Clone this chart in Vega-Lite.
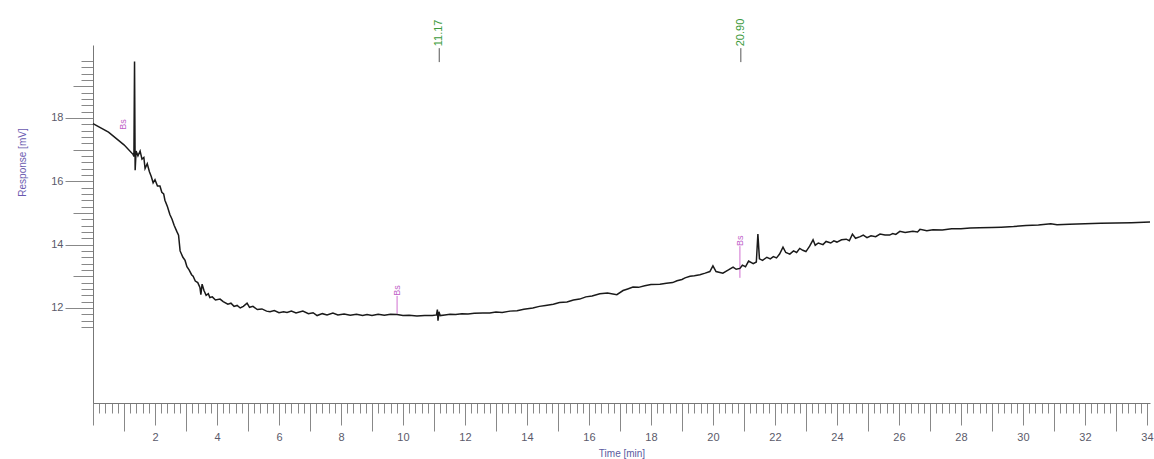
{
  "$schema": "https://vega.github.io/schema/vega-lite/v6.json",
  "width": 1057,
  "height": 358,
  "autosize": {"type": "none"},
  "padding": {"left": 93, "top": 45, "right": 4, "bottom": 56},
  "background": "white",
  "config": {
    "view": {"stroke": null},
    "axis": {
      "grid": false,
      "domainColor": "#777",
      "tickColor": "#888",
      "tickWidth": 1,
      "labelFont": "Liberation Sans",
      "labelFontSize": 11,
      "labelColor": "#5a5a6a",
      "titleFont": "Liberation Sans",
      "titleFontWeight": "normal"
    }
  },
  "datasets": {
    "trace": [
      {"t": 0, "v": 17.82}, {"t": 0.5, "v": 17.55}, {"t": 1.0, "v": 17.15}, {"t": 1.29, "v": 16.85},
      {"t": 1.32, "v": 16.78}, {"t": 1.34, "v": 19.78}, {"t": 1.36, "v": 16.35}, {"t": 1.39, "v": 16.95},
      {"t": 1.45, "v": 16.8}, {"t": 1.52, "v": 16.95}, {"t": 1.58, "v": 16.7}, {"t": 1.64, "v": 16.75},
      {"t": 1.68, "v": 16.4}, {"t": 1.75, "v": 16.55}, {"t": 1.82, "v": 16.3}, {"t": 1.88, "v": 16.15},
      {"t": 1.94, "v": 15.95}, {"t": 2.0, "v": 16.05}, {"t": 2.08, "v": 15.85}, {"t": 2.16, "v": 15.85},
      {"t": 2.22, "v": 15.65}, {"t": 2.28, "v": 15.6}, {"t": 2.32, "v": 15.4}, {"t": 2.4, "v": 15.2},
      {"t": 2.48, "v": 14.95}, {"t": 2.55, "v": 14.8}, {"t": 2.62, "v": 14.6}, {"t": 2.71, "v": 14.4},
      {"t": 2.76, "v": 14.3}, {"t": 2.81, "v": 13.8}, {"t": 2.9, "v": 13.6}, {"t": 2.97, "v": 13.5},
      {"t": 3.03, "v": 13.3}, {"t": 3.1, "v": 13.2}, {"t": 3.18, "v": 13.05}, {"t": 3.23, "v": 13.0},
      {"t": 3.3, "v": 12.85}, {"t": 3.38, "v": 12.8}, {"t": 3.45, "v": 12.65}, {"t": 3.48, "v": 12.42},
      {"t": 3.52, "v": 12.75}, {"t": 3.58, "v": 12.55}, {"t": 3.65, "v": 12.4}, {"t": 3.72, "v": 12.45},
      {"t": 3.77, "v": 12.33}, {"t": 3.85, "v": 12.35}, {"t": 3.95, "v": 12.25}, {"t": 4.1, "v": 12.28},
      {"t": 4.2, "v": 12.2}, {"t": 4.35, "v": 12.12}, {"t": 4.45, "v": 12.15}, {"t": 4.55, "v": 12.05},
      {"t": 4.65, "v": 12.08}, {"t": 4.75, "v": 12.0}, {"t": 4.85, "v": 12.05}, {"t": 4.97, "v": 12.15},
      {"t": 5.05, "v": 12.02}, {"t": 5.16, "v": 12.05}, {"t": 5.3, "v": 11.95}, {"t": 5.45, "v": 11.97},
      {"t": 5.6, "v": 11.9}, {"t": 5.71, "v": 11.88}, {"t": 5.85, "v": 11.92}, {"t": 6.0, "v": 11.85},
      {"t": 6.15, "v": 11.88}, {"t": 6.26, "v": 11.86}, {"t": 6.4, "v": 11.9}, {"t": 6.55, "v": 11.84},
      {"t": 6.77, "v": 11.9}, {"t": 6.95, "v": 11.82}, {"t": 7.1, "v": 11.85}, {"t": 7.23, "v": 11.76},
      {"t": 7.4, "v": 11.82}, {"t": 7.55, "v": 11.78}, {"t": 7.74, "v": 11.84}, {"t": 7.9, "v": 11.78},
      {"t": 8.1, "v": 11.81}, {"t": 8.3, "v": 11.77}, {"t": 8.5, "v": 11.8}, {"t": 8.7, "v": 11.76},
      {"t": 8.84, "v": 11.79}, {"t": 9.0, "v": 11.76}, {"t": 9.2, "v": 11.8}, {"t": 9.4, "v": 11.77},
      {"t": 9.6, "v": 11.8}, {"t": 9.81, "v": 11.79}, {"t": 10.0, "v": 11.76}, {"t": 10.2, "v": 11.77},
      {"t": 10.45, "v": 11.75}, {"t": 10.7, "v": 11.76}, {"t": 10.95, "v": 11.76}, {"t": 11.08, "v": 11.78},
      {"t": 11.11, "v": 11.95}, {"t": 11.13, "v": 11.6}, {"t": 11.16, "v": 11.88}, {"t": 11.2, "v": 11.76},
      {"t": 11.35, "v": 11.78}, {"t": 11.52, "v": 11.8}, {"t": 11.7, "v": 11.79}, {"t": 11.9, "v": 11.82},
      {"t": 12.1, "v": 11.81}, {"t": 12.3, "v": 11.83}, {"t": 12.58, "v": 11.84}, {"t": 12.8, "v": 11.84},
      {"t": 13.0, "v": 11.87}, {"t": 13.2, "v": 11.86}, {"t": 13.45, "v": 11.9}, {"t": 13.68, "v": 11.91},
      {"t": 13.9, "v": 11.96}, {"t": 14.19, "v": 12.0}, {"t": 14.4, "v": 12.05}, {"t": 14.6, "v": 12.08},
      {"t": 14.85, "v": 12.12}, {"t": 15.05, "v": 12.17}, {"t": 15.29, "v": 12.19}, {"t": 15.5, "v": 12.25},
      {"t": 15.7, "v": 12.28}, {"t": 15.9, "v": 12.35}, {"t": 16.1, "v": 12.38}, {"t": 16.35, "v": 12.45},
      {"t": 16.6, "v": 12.47}, {"t": 16.9, "v": 12.42}, {"t": 17.1, "v": 12.55}, {"t": 17.25, "v": 12.6},
      {"t": 17.42, "v": 12.66}, {"t": 17.6, "v": 12.65}, {"t": 17.8, "v": 12.7}, {"t": 18.0, "v": 12.74},
      {"t": 18.29, "v": 12.75}, {"t": 18.5, "v": 12.78}, {"t": 18.7, "v": 12.8}, {"t": 18.84, "v": 12.86},
      {"t": 19.0, "v": 12.9}, {"t": 19.1, "v": 12.95}, {"t": 19.26, "v": 13.0}, {"t": 19.4, "v": 13.02},
      {"t": 19.58, "v": 13.05}, {"t": 19.75, "v": 13.1}, {"t": 19.9, "v": 13.15}, {"t": 20.0, "v": 13.33},
      {"t": 20.1, "v": 13.15}, {"t": 20.32, "v": 13.1}, {"t": 20.5, "v": 13.2}, {"t": 20.65, "v": 13.29},
      {"t": 20.75, "v": 13.22}, {"t": 20.87, "v": 13.25}, {"t": 20.95, "v": 13.35}, {"t": 21.05, "v": 13.3},
      {"t": 21.15, "v": 13.48}, {"t": 21.3, "v": 13.4}, {"t": 21.4, "v": 13.45}, {"t": 21.45, "v": 14.33},
      {"t": 21.5, "v": 13.55}, {"t": 21.6, "v": 13.5}, {"t": 21.74, "v": 13.6}, {"t": 21.85, "v": 13.55},
      {"t": 21.95, "v": 13.62}, {"t": 22.05, "v": 13.58}, {"t": 22.15, "v": 13.7}, {"t": 22.26, "v": 13.92},
      {"t": 22.35, "v": 13.75}, {"t": 22.48, "v": 13.7}, {"t": 22.6, "v": 13.8}, {"t": 22.7, "v": 13.75},
      {"t": 22.8, "v": 13.88}, {"t": 22.9, "v": 13.82}, {"t": 23.0, "v": 13.78}, {"t": 23.12, "v": 13.95},
      {"t": 23.23, "v": 14.15}, {"t": 23.3, "v": 13.98}, {"t": 23.4, "v": 14.05}, {"t": 23.55, "v": 14.0},
      {"t": 23.65, "v": 14.1}, {"t": 23.8, "v": 14.05}, {"t": 23.9, "v": 14.12}, {"t": 24.0, "v": 14.08},
      {"t": 24.15, "v": 14.15}, {"t": 24.3, "v": 14.17}, {"t": 24.4, "v": 14.12}, {"t": 24.5, "v": 14.33},
      {"t": 24.6, "v": 14.2}, {"t": 24.75, "v": 14.25}, {"t": 24.85, "v": 14.3}, {"t": 24.97, "v": 14.22},
      {"t": 25.1, "v": 14.28}, {"t": 25.25, "v": 14.25}, {"t": 25.39, "v": 14.33}, {"t": 25.55, "v": 14.3},
      {"t": 25.7, "v": 14.3}, {"t": 25.8, "v": 14.35}, {"t": 25.9, "v": 14.32}, {"t": 26.03, "v": 14.42},
      {"t": 26.2, "v": 14.38}, {"t": 26.45, "v": 14.42}, {"t": 26.6, "v": 14.4}, {"t": 26.68, "v": 14.48},
      {"t": 26.9, "v": 14.44}, {"t": 27.1, "v": 14.47}, {"t": 27.4, "v": 14.46}, {"t": 27.7, "v": 14.5},
      {"t": 28.0, "v": 14.5}, {"t": 28.3, "v": 14.52}, {"t": 28.6, "v": 14.53}, {"t": 29.0, "v": 14.54},
      {"t": 29.3, "v": 14.55}, {"t": 29.7, "v": 14.57}, {"t": 30.1, "v": 14.6}, {"t": 30.5, "v": 14.62},
      {"t": 30.9, "v": 14.66}, {"t": 31.1, "v": 14.63}, {"t": 31.5, "v": 14.64}, {"t": 32.0, "v": 14.66},
      {"t": 32.5, "v": 14.67}, {"t": 33.0, "v": 14.68}, {"t": 33.5, "v": 14.69}, {"t": 34.1, "v": 14.71}
    ],
    "peaks": [
      {"t": 11.17, "label": "11.17", "lo": 19.76, "hi": 20.2, "top": 20.26},
      {"t": 20.9, "label": "20.90", "lo": 19.76, "hi": 20.2, "top": 20.26}
    ],
    "events": [
      {"t": 0.97, "v": 17.79, "lo": 17.79, "hi": 17.79},
      {"t": 9.81, "v": 12.55, "lo": 11.82, "hi": 12.38},
      {"t": 20.87, "v": 14.12, "lo": 12.95, "hi": 13.95}
    ]
  },
  "layer": [
    {
      "data": {"name": "trace"},
      "mark": {"type": "line", "strokeOpacity": 0},
      "encoding": {
        "x": {"field": "t", "type": "quantitative",
          "scale": {"domain": [0, 34.1], "nice": false, "zero": false},
          "axis": {"orient": "bottom", "labels": false, "domain": false, "tickSize": 10, "tickCount": 171, "title": null}},
        "y": {"field": "v", "type": "quantitative",
          "scale": {"domain": [9, 20.3], "nice": false, "zero": false},
          "axis": {"orient": "left", "labels": false, "domain": false, "tickSize": 12, "title": null,
            "values": [11.4, 11.6, 11.8, 12.0, 12.2, 12.4, 12.6, 12.8, 13.0, 13.2, 13.4, 13.6, 13.8, 14.0, 14.2, 14.4, 14.6, 14.8, 15.0, 15.2, 15.4, 15.6, 15.8, 16.0, 16.2, 16.4, 16.6, 16.8, 17.0, 17.2, 17.4, 17.6, 17.8, 18.0, 18.2, 18.4, 18.6, 18.8, 19.0, 19.2, 19.4, 19.6, 19.8]}}
      }
    },
    {
      "data": {"name": "trace"},
      "mark": {"type": "line", "strokeOpacity": 0},
      "encoding": {
        "x": {"field": "t", "type": "quantitative",
          "scale": {"domain": [0, 34.1], "nice": false, "zero": false},
          "axis": {"orient": "bottom", "labels": false, "domain": false, "tickSize": 28, "title": null,
            "values": [1, 3, 5, 7, 9, 11, 13, 15, 17, 19, 21, 23, 25, 27, 29, 31, 33]}},
        "y": {"field": "v", "type": "quantitative",
          "scale": {"domain": [9, 20.3], "nice": false, "zero": false},
          "axis": {"orient": "left", "labels": false, "domain": false, "tickSize": 20, "title": null,
            "values": [13, 15, 17, 19]}}
      }
    },
    {
      "data": {"name": "peaks"},
      "mark": {"type": "rule", "color": "#555", "strokeWidth": 1},
      "encoding": {
        "x": {"field": "t", "type": "quantitative", "axis": null},
        "y": {"field": "lo", "type": "quantitative", "axis": null},
        "y2": {"field": "hi"}
      }
    },
    {
      "data": {"name": "peaks"},
      "mark": {"type": "text", "angle": 270, "align": "left", "baseline": "middle", "font": "Liberation Sans", "fontSize": 11, "color": "#3c9a3c"},
      "encoding": {
        "x": {"field": "t", "type": "quantitative", "axis": null},
        "y": {"field": "top", "type": "quantitative", "axis": null},
        "text": {"field": "label"}
      }
    },
    {
      "data": {"name": "events"},
      "mark": {"type": "rule", "color": "#d070d0", "strokeWidth": 1},
      "encoding": {
        "x": {"field": "t", "type": "quantitative", "axis": null},
        "y": {"field": "lo", "type": "quantitative", "axis": null},
        "y2": {"field": "hi"}
      }
    },
    {
      "data": {"name": "events"},
      "mark": {"type": "text", "angle": 270, "align": "center", "baseline": "middle", "font": "Liberation Sans", "fontSize": 9, "color": "#c060c8"},
      "encoding": {
        "x": {"field": "t", "type": "quantitative", "axis": null},
        "y": {"field": "v", "type": "quantitative", "axis": null},
        "text": {"value": "Bs"}
      }
    },
    {
      "data": {"name": "trace"},
      "mark": {"type": "line", "color": "#1a1a1a", "strokeWidth": 1.5, "interpolate": "linear"},
      "encoding": {
        "x": {"field": "t", "type": "quantitative",
          "scale": {"domain": [0, 34.1], "nice": false, "zero": false},
          "axis": {"orient": "bottom", "tickSize": 22, "labelPadding": 6,
            "values": [0, 2, 4, 6, 8, 10, 12, 14, 16, 18, 20, 22, 24, 26, 28, 30, 32, 34],
            "labelExpr": "datum.value == 0 ? '' : datum.label",
            "labelFlush": false, "labelOverlap": false,
            "title": "Time [min]", "titleColor": "#5a5aa0", "titleFontSize": 10,
            "titleY": 50, "titleBaseline": "middle"}},
        "y": {"field": "v", "type": "quantitative",
          "scale": {"domain": [9, 20.3], "nice": false, "zero": false},
          "axis": {"orient": "left", "tickSize": 28, "labelPadding": 2,
            "values": [12, 14, 16, 18],
            "labelFlush": false, "labelOverlap": false,
            "title": "Response [mV]", "titleColor": "#6a5ab0", "titleFontSize": 10,
            "titleX": -71, "titleY": 117, "titleBaseline": "middle", "titleAngle": 270}}
      }
    }
  ],
  "resolve": {"axis": {"x": "independent", "y": "independent"}}
}
